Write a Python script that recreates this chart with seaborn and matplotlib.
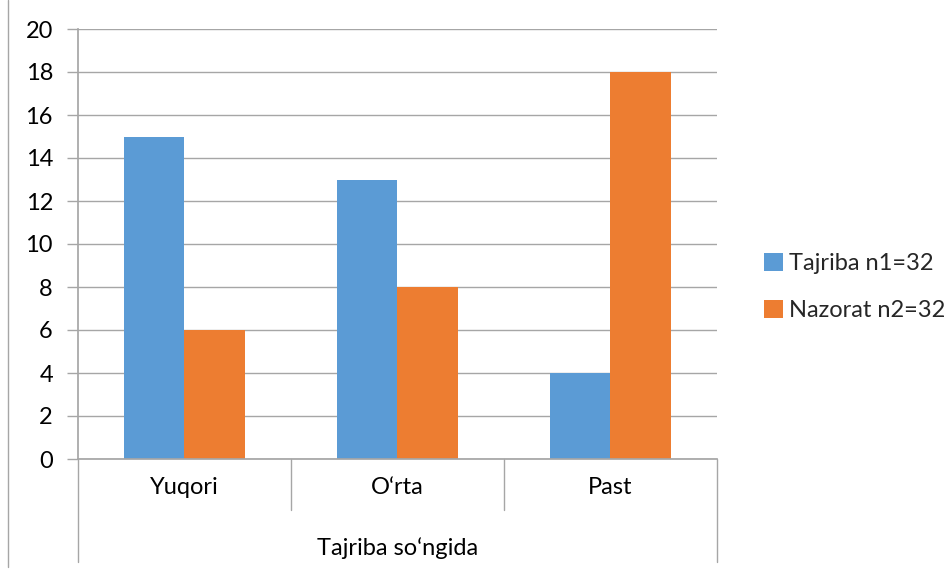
import matplotlib
matplotlib.use("Agg")
import matplotlib.pyplot as plt
from matplotlib.lines import Line2D
import numpy as np
import pandas as pd
import seaborn as sns

categories = ["Yuqori", "O\u2018rta", "Past"]
series_names = ["Tajriba n1=32", "Nazorat n2=32"]
tajriba = [15, 13, 4]
nazorat = [6, 8, 18]
y_ticks = [0, 2, 4, 6, 8, 10, 12, 14, 16, 18, 20]
group_label = "Tajriba so\u2018ngida"

colors = ["#5B9BD5", "#ED7D31"]
grid_color = "#A6A6A6"
fs = 17

df = pd.DataFrame({
    "category": categories * 2,
    "series": [series_names[0]] * 3 + [series_names[1]] * 3,
    "value": tajriba + nazorat,
})

sns.set_theme(style="white")
plt.rcParams["font.family"] = ["Lato", "DejaVu Sans"]

fig = plt.figure(figsize=(9.53, 5.70), dpi=100)
ax = fig.add_axes([78 / 953, 1 - 459 / 570, 639 / 953, 430 / 570])

sns.barplot(data=df, x="category", y="value", hue="series", order=categories,
            hue_order=series_names, palette=colors, width=0.568, saturation=1,
            linewidth=0, ax=ax)

ax.set_ylim(0, 20)
ax.set_xlim(-0.5, len(categories) - 0.5)
ax.set_yticks(y_ticks)
ax.set_yticklabels([str(t) for t in y_ticks], fontsize=fs, color="black")
ax.set_axisbelow(True)
ax.yaxis.grid(True, color=grid_color, linewidth=1)
ax.tick_params(axis="y", length=8, width=1, color=grid_color, pad=10, left=True)
ax.tick_params(axis="x", length=0, labelsize=fs, labelcolor="black", pad=13)
ax.set_xlabel("")
ax.set_ylabel("")

for side in ["top", "right"]:
    ax.spines[side].set_visible(False)
ax.spines["left"].set_color(grid_color)
ax.spines["bottom"].set_color(grid_color)

# category separators and outer group label
trans = ax.get_xaxis_transform()
bounds = np.arange(len(categories) + 1) - 0.5
for i, b in enumerate(bounds):
    low = -0.2395 if i in (0, len(bounds) - 1) else -0.1186
    ax.plot([b, b], [0, low], color=grid_color, linewidth=1, transform=trans,
            clip_on=False)
ax.text(np.mean(bounds), -0.207, group_label, transform=trans, ha="center",
        va="center", fontsize=fs, color="black")

leg = ax.legend(loc="center left", bbox_to_anchor=(1.04, 0.40), frameon=False,
                fontsize=fs, handlelength=0.8, handleheight=0.8,
                handletextpad=0.25, labelspacing=1.1)

fig.add_artist(Line2D([8 / 953, 8 / 953], [0.005, 1.0], color=grid_color,
                      linewidth=1))

fig.savefig("out.png", dpi=100)
